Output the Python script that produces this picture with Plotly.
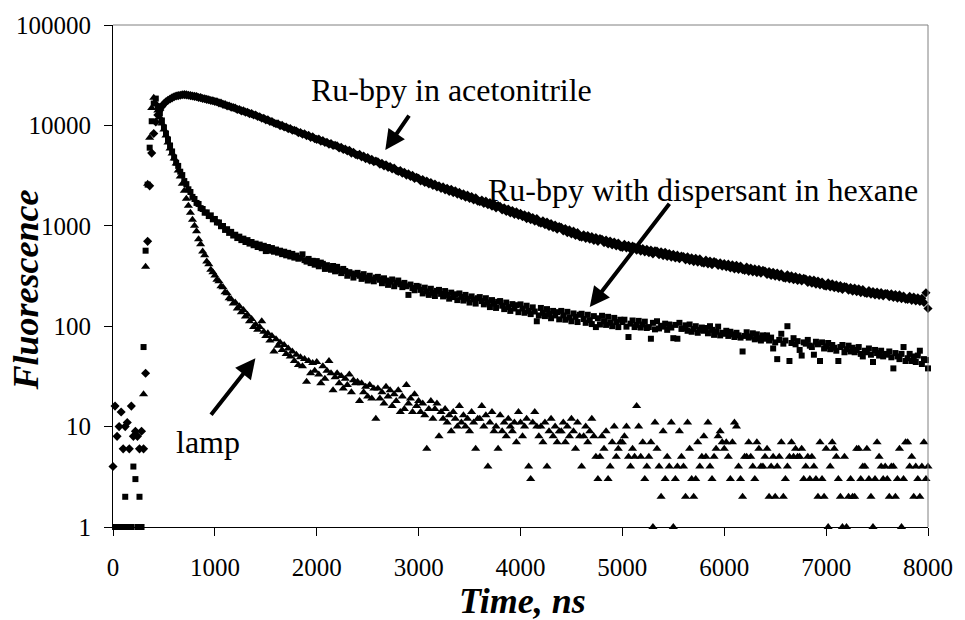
import plotly.graph_objects as go

# Sampling channels of the decay curves (ns)
time_ns = list(range(0, 8001, 20))

# Ru-bpy in acetonitrile (diamonds)
acetonitrile = [
    4, 16, 8, 10, 14, 6, 10, 11, 6, 16,
    8, 9, 8, 6, 9, 6, 34, 700, 2500, 5300,
    8300, 10800, 12700, 14200, 15400, 16400, 17200, 17800, 18300, 18800,
    19300, 19600, 19800, 20000, 20200, 20250, 20150, 19950, 19800, 19650,
    19450, 19350, 18950, 18900, 18550, 18450, 18150, 18000, 17700, 17600,
    17300, 17200, 16750, 16650, 16200, 16100, 15650, 15600, 15200, 15100,
    14850, 14400, 14400, 13950, 13950, 13550, 13500, 13100, 13100, 12700,
    12700, 12250, 12200, 11800, 11800, 11350, 11400, 10950, 10950, 10550,
    10400, 10350, 9950, 10000, 9650, 9650, 9250, 9300, 8950, 8950,
    8800, 8450, 8500, 8150, 8250, 7900, 7950, 7600, 7700, 7350,
    7250, 7300, 6950, 7050, 6750, 6800, 6500, 6600, 6300, 6350,
    6250, 5950, 6050, 5750, 5800, 5550, 5650, 5300, 5400, 5150,
    5050, 5150, 4850, 4950, 4650, 4780, 4500, 4600, 4350, 4420,
    4350, 4100, 4200, 3950, 4050, 3820, 3900, 3680, 3770, 3560,
    3480, 3560, 3340, 3420, 3200, 3290, 3100, 3180, 2960, 3050,
    2980, 2800, 2890, 2700, 2790, 2610, 2700, 2520, 2610, 2440,
    2500, 2360, 2440, 2280, 2360, 2200, 2310, 2140, 2230, 2070,
    2150, 2000, 2080, 1930, 2020, 1870, 1960, 1810, 1900, 1760,
    1740, 1810, 1670, 1760, 1620, 1700, 1570, 1650, 1510, 1590,
    1560, 1440, 1510, 1390, 1470, 1340, 1420, 1300, 1380, 1270,
    1330, 1230, 1290, 1180, 1260, 1150, 1210, 1110, 1180, 1080,
    1060, 1120, 1025, 1090, 985, 1050, 960, 1020, 925, 985,
    965, 890, 940, 855, 910, 830, 885, 800, 855, 780,
    770, 815, 750, 800, 735, 780, 715, 765, 700, 745,
    735, 680, 720, 660, 705, 645, 690, 630, 675, 615,
    610, 655, 600, 640, 585, 630, 615, 570, 610, 560,
    595, 550, 585, 540, 575, 525, 565, 560, 515, 550,
    505, 545, 495, 530, 488, 520, 478, 510, 470, 500,
    495, 458, 490, 450, 480, 440, 475, 435, 468, 430,
    425, 455, 418, 446, 410, 440, 430, 402, 428, 395,
    420, 390, 415, 380, 410, 372, 405, 368, 398, 365,
    360, 388, 352, 380, 348, 372, 342, 368, 338, 360,
    355, 328, 350, 320, 345, 315, 338, 310, 332, 305,
    300, 325, 296, 318, 290, 312, 285, 305, 282, 300,
    295, 272, 292, 268, 288, 262, 282, 258, 276, 253,
    250, 270, 246, 264, 242, 258, 238, 254, 232, 248,
    245, 228, 243, 223, 240, 220, 236, 216, 232, 214,
    212, 226, 208, 222, 205, 219, 203, 216, 200, 212,
    212, 197, 210, 193, 207, 190, 205, 188, 200, 186,
    185, 198, 181, 195, 178, 192, 176, 190, 172, 215,
    150,
]

# Ru-bpy with dispersant in hexane (squares)
hexane = [
    0, 1, 1, 1, 0, 1, 2, 1, 1, 1,
    4, 3, 1, 2, 1, 62, 565, 2570, 6000, 11000,
    16500, 18500, 15500, 13200, 11200, 9550, 8300, 7240, 6310, 5500,
    4790, 4250, 3950, 3460, 3200, 2790, 2600, 2310, 2170, 1940,
    1850, 1690, 1650, 1500, 1470, 1350, 1360, 1250, 1270, 1160,
    1170, 1080, 1080, 990, 995, 910, 925, 850, 870, 800,
    815, 755, 780, 720, 745, 690, 720, 665, 690, 640,
    665, 615, 650, 598, 632, 560, 615, 565, 600, 552,
    580, 540, 565, 522, 552, 508, 538, 495, 525, 482,
    505, 470, 480, 520, 455, 440, 468, 425, 448, 410,
    445, 395, 430, 418, 372, 405, 382, 365, 398, 352,
    390, 360, 338, 372, 355, 318, 345, 335, 305, 330,
    340, 318, 296, 330, 305, 285, 318, 292, 280, 305,
    310, 290, 268, 300, 285, 258, 278, 292, 250, 272,
    285, 262, 245, 270, 250, 205, 260, 240, 228, 252,
    248, 230, 212, 242, 222, 205, 236, 215, 200, 225,
    230, 210, 198, 224, 205, 188, 216, 195, 208, 182,
    212, 196, 180, 205, 188, 172, 198, 185, 168, 190,
    195, 178, 165, 190, 172, 155, 182, 168, 152, 175,
    178, 160, 148, 172, 155, 142, 166, 150, 162, 138,
    165, 150, 136, 160, 142, 132, 154, 140, 112, 128,
    152, 136, 126, 148, 132, 120, 142, 128, 138, 117,
    142, 128, 116, 139, 122, 112, 134, 124, 110, 130,
    133, 118, 108, 130, 115, 105, 126, 98, 120, 104,
    127, 112, 103, 124, 108, 100, 121, 110, 98, 116,
    110, 116, 99, 78, 106, 114, 98, 103, 113, 97,
    104, 111, 96, 98, 75, 108, 93, 112, 95, 101,
    99, 106, 92, 104, 97, 76, 103, 75, 108, 94,
    95, 102, 90, 104, 88, 94, 100, 86, 92, 97,
    90, 96, 85, 100, 92, 82, 88, 99, 81, 86,
    84, 90, 80, 88, 83, 78, 86, 81, 77, 56,
    80, 87, 77, 79, 85, 74, 83, 76, 72, 81,
    75, 81, 72, 77, 60, 69, 47, 73, 84, 67,
    72, 100, 45, 68, 76, 66, 71, 58, 51, 69,
    67, 73, 64, 62, 52, 70, 66, 45, 69, 60,
    63, 68, 59, 65, 61, 57, 45, 62, 65, 55,
    59, 64, 56, 61, 55, 58, 62, 53, 50, 57,
    55, 60, 52, 44, 58, 54, 51, 57, 50, 53,
    52, 56, 49, 38, 54, 50, 47, 53, 62, 45,
    48, 53, 45, 50, 44, 51, 57, 42, 47, 46,
    38,
]

# Lamp profile (triangles)
lamp = [
    0, 0, 0, 0, 0, 0, 0, 0, 0, 0,
    0, 0, 0, 0, 0, 21, 390, 2630, 7550, 14900,
    18800, 16600, 14100, 12000, 10470, 9120, 7940, 6760, 5890, 5250,
    4680, 4170, 3550, 3090, 2630, 2240, 1860, 1585, 1350, 1150,
    1000, 880, 735, 655, 555, 510, 440, 415, 365, 345,
    320, 290, 280, 250, 245, 218, 213, 190, 186, 168,
    172, 150, 158, 138, 145, 125, 130, 112, 118, 98,
    104, 92, 98, 112, 88, 80, 85, 72, 80, 56,
    74, 64, 69, 58, 65, 53, 60, 50, 56, 45,
    52, 41, 49, 40, 47, 28, 45, 34, 43, 36,
    44, 33, 27, 40, 30, 36, 45, 34, 23, 31,
    34, 27, 32, 24, 30, 26, 33, 22, 29, 27,
    28, 18, 27, 22, 25, 20, 26, 19, 24, 12,
    24, 19, 22, 17, 25, 20, 23, 16, 21, 18,
    23, 14, 20, 15, 26, 17, 19, 14, 21, 16,
    18, 14, 17, 13, 6, 15, 18, 12, 15, 17,
    8, 14, 12, 15, 11, 13, 9, 14, 12, 10,
    16, 11, 13, 10, 12, 9, 14, 11, 6, 12,
    12, 16, 10, 13, 4, 11, 14, 9, 10, 6,
    13, 9, 11, 8, 12, 10, 9, 11, 7, 14,
    11, 8, 10, 12, 4, 3, 11, 14, 10, 8,
    10, 7, 11, 4, 9, 12, 8, 10, 7, 9,
    9, 11, 7, 10, 8, 12, 9, 6, 11, 8,
    4, 8, 10, 7, 9, 12, 8, 5, 3, 5,
    8, 6, 9, 3, 4, 7, 10, 5, 6, 7,
    7, 8, 10, 5, 4, 6, 5, 16, 10, 5,
    7, 3, 4, 5, 7, 1, 11, 6, 4, 2,
    9, 3, 5, 4, 11, 1, 3, 4, 9, 5,
    4, 2, 11, 6, 3, 2, 3, 7, 4, 5,
    8, 5, 11, 4, 3, 5, 6, 8, 9, 7,
    6, 7, 5, 3, 7, 11, 10, 4, 3, 2,
    5, 5, 7, 5, 4, 3, 7, 6, 4, 4,
    5, 6, 2, 4, 5, 2, 4, 5, 7, 2,
    3, 4, 5, 7, 5, 6, 5, 5, 6, 3,
    4, 5, 3, 5, 4, 3, 2, 7, 3, 2,
    6, 1, 4, 7, 6, 5, 3, 2, 1, 5,
    1, 2, 3, 2, 2, 6, 6, 3, 4, 4,
    6, 3, 2, 1, 3, 7, 5, 4, 3, 4,
    3, 2, 4, 4, 2, 3, 6, 1, 3, 7,
    7, 4, 5, 2, 4, 3, 2, 4, 7, 3,
    4,
]

x_ticks = [0, 1000, 2000, 3000, 4000, 5000, 6000, 7000, 8000]
y_ticks = [1, 10, 100, 1000, 10000, 100000]
y_tick_labels = ["1", "10", "100", "1000", "10000", "100000"]

FONT = "Liberation Serif"


def positive(t, v):
    xs, ys = [], []
    for a, b in zip(t, v):
        if b > 0:
            xs.append(a)
            ys.append(b)
    return xs, ys


fig = go.Figure()
for vals, sym, size in [(acetonitrile, "diamond", 7),
                        (hexane, "square", 6),
                        (lamp, "triangle-up", 8)]:
    xs, ys = positive(time_ns, vals)
    fig.add_trace(go.Scatter(
        x=xs, y=ys, mode="markers", cliponaxis=False,
        marker=dict(symbol=sym, size=size, color="black", line=dict(width=0)),
    ))

fig.update_layout(
    width=965, height=620,
    margin=dict(l=113, r=28, t=24, b=93),
    paper_bgcolor="white", plot_bgcolor="white",
    showlegend=False,
    font=dict(family=FONT, color="black"),
)
fig.update_xaxes(
    range=[0, 8000], tickvals=x_ticks, ticks="outside", ticklen=8,
    tickcolor="black", showline=True, linecolor="black", linewidth=1,
    showgrid=False, zeroline=False, tickfont=dict(size=25, family=FONT),
    ticklabelstandoff=10,
)
fig.update_yaxes(
    type="log", range=[0, 5], tickvals=y_ticks, ticktext=y_tick_labels,
    ticks="outside", ticklen=8, tickcolor="black", showline=True,
    linecolor="black", linewidth=1, showgrid=False, zeroline=False,
    tickfont=dict(size=25, family=FONT), ticklabelstandoff=8,
)

# gray frame on top and right
fig.add_shape(type="line", xref="paper", yref="paper", x0=0, x1=1, y0=1, y1=1,
              line=dict(color="#808080", width=1))
fig.add_shape(type="line", xref="paper", yref="paper", x0=1, x1=1, y0=0, y1=1,
              line=dict(color="#808080", width=1))

texts = [
    ("Ru-bpy in acetonitrile", 0.415, 0.871),
    ("Ru-bpy with dispersant in hexane", 0.7245, 0.672),
    ("lamp", 0.1165, 0.169),
]
for txt, xp, yp in texts:
    fig.add_annotation(text=txt, xref="paper", yref="paper", x=xp, y=yp,
                       xanchor="center", yanchor="middle", showarrow=False,
                       font=dict(size=32, family=FONT, color="black"))

# arrows (tip x, tip log10 y, tail x, tail log10 y)
arrows = [
    (1398, 1.680, 951, 1.103),
    (2673, 3.754, 2916, 4.112),
    (4680, 2.190, 5473, 3.234),
]
for x, y, ax, ay in arrows:
    fig.add_annotation(x=x, y=y, ax=ax, ay=ay, xref="x", yref="y",
                       axref="x", ayref="y", text="", showarrow=True,
                       arrowhead=2, arrowsize=1, arrowwidth=4,
                       arrowcolor="black", standoff=0, startstandoff=0)

fig.add_annotation(text="<b><i>Time, ns</i></b>", xref="paper", yref="paper",
                   x=0.503, y=-0.147, xanchor="center", yanchor="middle",
                   showarrow=False, font=dict(size=36, family=FONT, color="black"))
fig.add_annotation(text="<b><i>Fluorescence</i></b>", xref="paper", yref="paper",
                   x=-0.1068, y=0.473, xanchor="center", yanchor="middle",
                   textangle=-90, showarrow=False,
                   font=dict(size=36, family=FONT, color="black"))

fig.write_html("out.html")
